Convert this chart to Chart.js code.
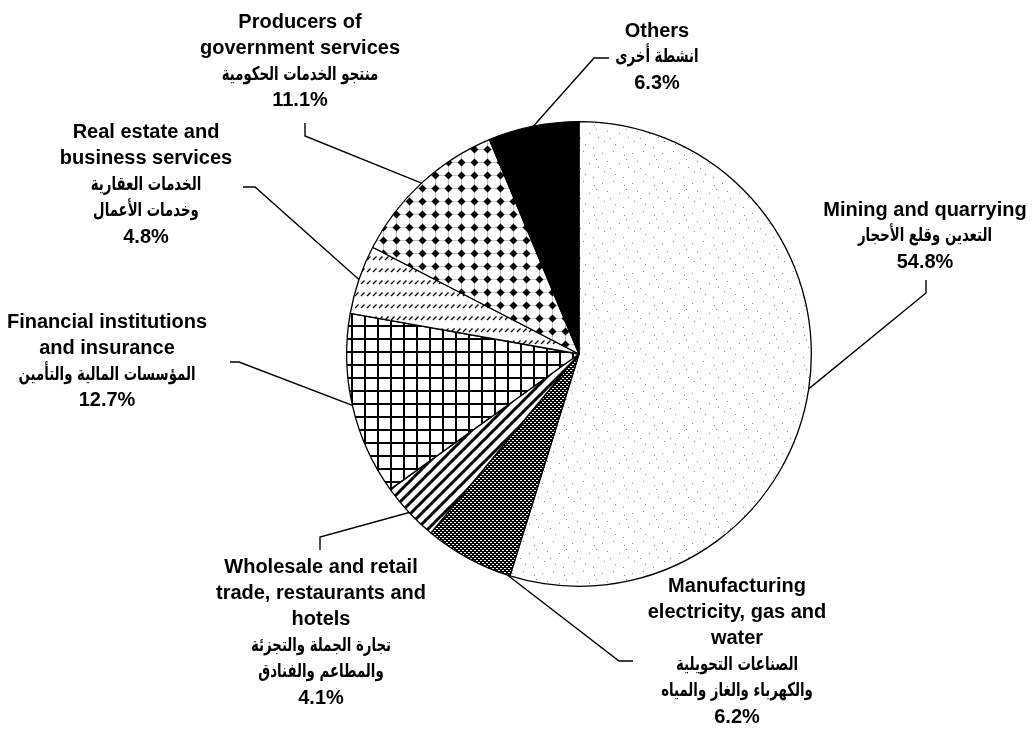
<!DOCTYPE html>
<html>
<head>
<meta charset="utf-8">
<script src="https://cdn.jsdelivr.net/npm/chart.js@4.4.1/dist/chart.umd.min.js"></script>
<style>
  body { margin: 0; background: #fff; }
  #wrap { width: 1034px; height: 735px; }
</style>
</head>
<body>
<div id="wrap"><canvas id="gdpChart"></canvas></div>
<script>
// data, clockwise from 12 o'clock
const categoryEn = [
    ['Mining and quarrying'],
    ['Manufacturing', 'electricity, gas and', 'water'],
    ['Wholesale and retail', 'trade, restaurants and', 'hotels'],
    ['Financial institutions', 'and insurance'],
    ['Real estate and', 'business services'],
    ['Producers of', 'government services'],
    ['Others']
];
const categoryAr = [
    ['التعدين وقلع الأحجار'],
    ['الصناعات التحويلية', 'والكهرباء والغاز والمياه'],
    ['تجارة الجملة والتجزئة', 'والمطاعم والفنادق'],
    ['المؤسسات المالية والتأمين'],
    ['الخدمات العقارية', 'وخدمات الأعمال'],
    ['منتجو الخدمات الحكومية'],
    ['انشطة أخرى']
];
const shares = [54.8, 6.2, 4.1, 12.7, 4.8, 11.1, 6.3];

// label placement (text centre x, first line y, leader elbows from slice outward)
const labelPos = [
    { x: 925, y: 210, leader: [[926, 293], [926, 280]], frac: 0.5 },
    { x: 737, y: 586, leader: [[619, 661], [633, 661]], frac: 0.03 },
    { x: 321, y: 567, leader: [[320, 537], [320, 550]], frac: 0.5 },
    { x: 107, y: 322, leader: [[239, 362], [230, 362]], frac: 0.5 },
    { x: 146, y: 132, leader: [[255, 187], [243, 187]], frac: 0.5 },
    { x: 300, y: 22, leader: [[305, 136], [305, 123]], frac: 0.5 },
    { x: 657, y: 31, leader: [[594, 58], [609, 58]], frac: 0.5 }
];
const lineHeight = 26.3;

function makePattern(w, h, draw) {
    const c = document.createElement('canvas');
    c.width = w; c.height = h;
    const g = c.getContext('2d');
    g.fillStyle = '#fff';
    g.fillRect(0, 0, w, h);
    draw(g);
    return g.createPattern(c, 'repeat');
}

// sparse stipple
const stipple = makePattern(30, 30, g => {
    const dots = [[2, 3], [13, 1], [24, 5], [7, 11], [19, 13], [28, 17], [4, 21], [15, 24], [23, 27], [10, 18], [26, 9]];
    g.fillStyle = '#8a8a8a';
    dots.forEach(d => g.fillRect(d[0], d[1], 1, 1));
});
// fine dark weave
const weave = makePattern(4, 4, g => {
    g.fillStyle = '#000';
    g.fillRect(0, 0, 4, 4);
    g.fillStyle = '#fff';
    g.fillRect(0, 0, 2, 1);
    g.fillRect(2, 2, 2, 1);
});
// wide diagonal stripes
const stripes = makePattern(11, 11, g => {
    g.strokeStyle = '#000';
    g.lineWidth = 3;
    g.beginPath();
    g.moveTo(-2, 13); g.lineTo(13, -2);
    g.moveTo(-2, 2); g.lineTo(2, -2);
    g.moveTo(9, 13); g.lineTo(13, 9);
    g.stroke();
});
// square grid
const grid = makePattern(13, 13, g => {
    g.fillStyle = '#000';
    g.fillRect(0, 0, 13, 2);
    g.fillRect(0, 0, 2, 13);
});
// rows of short slashes
const slashes = makePattern(6, 12, g => {
    g.strokeStyle = '#000';
    g.lineWidth = 1.3;
    g.beginPath();
    g.moveTo(1, 8); g.lineTo(4.5, 4.5);
    g.stroke();
});
// diamonds
const diamonds = makePattern(13, 13, g => {
    g.fillStyle = '#c8c8c8';
    g.fillRect(0, 6, 13, 1);
    g.fillRect(6, 0, 1, 13);
    g.fillStyle = '#000';
    g.beginPath();
    g.moveTo(6.5, 2.5); g.lineTo(10.5, 6.5); g.lineTo(6.5, 10.5); g.lineTo(2.5, 6.5);
    g.closePath();
    g.fill();
});
const fills = [stipple, weave, stripes, grid, slashes, diamonds, '#000'];

const labelPlugin = {
    id: 'sliceLabels',
    afterDraw(chart) {
        const ctx = chart.ctx;
        const meta = chart.getDatasetMeta(0);
        ctx.save();
        meta.data.forEach((arc, i) => {
            const p = labelPos[i];
            const a = arc.startAngle + p.frac * (arc.endAngle - arc.startAngle);
            const ax = arc.x + Math.cos(a) * arc.outerRadius;
            const ay = arc.y + Math.sin(a) * arc.outerRadius;
            ctx.strokeStyle = '#000';
            ctx.lineWidth = 1.4;
            ctx.beginPath();
            ctx.moveTo(ax, ay);
            p.leader.forEach(pt => ctx.lineTo(pt[0], pt[1]));
            ctx.stroke();

            ctx.fillStyle = '#000';
            ctx.textAlign = 'center';
            ctx.textBaseline = 'middle';
            let y = p.y;
            ctx.font = 'bold 20px "Liberation Sans", Arial, sans-serif';
            categoryEn[i].forEach(t => { ctx.fillText(t, p.x, y); y += lineHeight; });
            // arabic lines are set in a narrower face in the original, squeeze them
            ctx.font = 'bold 19px "DejaVu Sans", sans-serif';
            categoryAr[i].forEach(t => {
                ctx.save();
                ctx.translate(p.x, y);
                ctx.scale(0.7, 1);
                ctx.fillText(t, 0, 0);
                ctx.restore();
                y += lineHeight;
            });
            ctx.font = 'bold 20px "Liberation Sans", Arial, sans-serif';
            ctx.fillText(shares[i].toFixed(1) + '%', p.x, y);
        });
        ctx.restore();
    }
};

new Chart(document.getElementById('gdpChart'), {
    type: 'pie',
    data: {
        labels: categoryEn.map(l => l.join(' ')),
        datasets: [{
            data: shares,
            backgroundColor: fills,
            borderColor: '#000',
            borderWidth: 1.3
        }]
    },
    options: {
        responsive: true,
        maintainAspectRatio: false,
        animation: false,
        layout: {
            padding: { left: 346, right: 222, top: 121, bottom: 148 }
        },
        plugins: {
            legend: { display: false },
            tooltip: { enabled: false }
        }
    },
    plugins: [labelPlugin]
});
</script>
</body>
</html>
